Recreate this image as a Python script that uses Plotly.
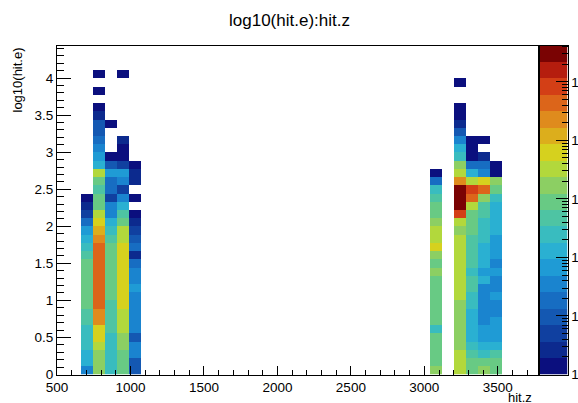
import numpy as np
import plotly.graph_objects as go

N = None

# ---- histogram binning ----
X_MIN, X_MAX, NX = 500.0, 3770.0, 40
Y_MIN, Y_MAX, NY = 0.0, 4.44, 40

# ---- colour axis (log10 of counts) and its 20-level palette ----
Z_LOG_MIN, Z_LOG_MAX = 0.0, 5.62
palette = [
    "#0b0f7e", "#0c2a8e", "#1040a0", "#1458b2", "#176dc2",
    "#1a84cf", "#1f9bd5", "#2ab0d2", "#39bcbf", "#4ec4a3",
    "#68ca84", "#8ccf63", "#b2d83c", "#d6d11e", "#dcae1c",
    "#df8b1d", "#dc651a", "#d33f16", "#b51d0e", "#7a0303",
]
cbar_tickvals = [0, 1, 2, 3, 4, 5]
cbar_ticktext = ["1", "10", "10²", "10³", "10⁴", "10⁵"]

# ---- cell contents: palette level for each y-bin (index 0 = lowest), keyed by x-bin ----
levels_by_xbin = {
    2: [5, 7, 7, 8, 8, 8, 9, 9, 10, 10, 10, 10, 10, 10, 9, 8, 7, 6, 4, 2, 1, 0],
    3: [11, 11, 11, 12, 13, 13, 15, 15, 16, 16, 16, 16, 16, 16, 16, 16, 15, 14, 13, 12,
        10, 10, 9, 10, 12, 7, 6, 5, 4, 3, 3, 1, 0, N, 0, N, 0],
    4: [8, 8, 8, 8, 8, 9, 9, 9, 9, 10, 10, 10, 10, 10, 10, 10, 9, 8, 7, 5,
        5, 2, 4, 4, 6, 3, 0, N, N, N, 0],
    5: [10, 10, 10, 11, 11, 12, 12, 12, 13, 13, 13, 13, 13, 13, 13, 13, 12, 12, 10, 9,
        7, 5, 2, 5, 6, 2, 0, 0, 1, N, N, N, N, N, N, N, 0],
    6: [3, 3, 5, 5, 3, 5, 5, 5, 5, 5, 6, 5, 5, 4, 1, 4, 3, 2, 1, 0,
        N, 0, N, 1, 1, 0],
    31: [11, 10, 10, 10, 10, 8, 10, 10, 10, 10, 10, 10, 11, 10, 11, 13, 12, 12, 11, 10,
         10, 9, 8, 4, 0],
    33: [12, 12, 12, 11, 11, 11, 11, 11, 11, 12, 12, 12, 12, 12, 12, 12, 12, 11, 12, 17,
         19, 19, 19, 15, 12, 11, 8, 7, 5, 3, 1, 0, 0, N, N, 0],
    34: [10, 10, 9, 8, 7, 7, 7, 7, 8, 8, 9, 9, 8, 9, 9, 9, 9, 10, 10, 10,
         12, 16, 17, 12, 7, 4, 0, 0, 0],
    35: [11, 10, 8, 7, 6, 6, 5, 5, 5, 5, 5, 7, 6, 7, 7, 7, 8, 8, 8, 9,
         9, 11, 16, 13, 5, 4, 1, N, 0],
    36: [10, 10, 9, 7, 6, 6, 6, 5, 5, 6, 5, 5, 6, 5, 6, 6, 6, 7, 7, 7,
         7, 8, 10, 11, 0, 0],
}

# ---- build the 2-D histogram grid ----
n_lev = len(palette)
band = (Z_LOG_MAX - Z_LOG_MIN) / n_lev
z = np.full((NY, NX), np.nan)
for xb, col in levels_by_xbin.items():
    for yb, lev in enumerate(col):
        if lev is not None:
            z[yb, xb] = Z_LOG_MIN + (lev + 0.5) * band

colorscale = []
for i, c in enumerate(palette):
    colorscale.append([i / n_lev, c])
    colorscale.append([(i + 1) / n_lev, c])

dx = (X_MAX - X_MIN) / NX
dy = (Y_MAX - Y_MIN) / NY

W, H = 578, 403
PL, PR, PT, PB = 57, 537.5, 45.5, 374.5
CB_L, CB_R = 539.5, 567.5

fig = go.Figure()
fig.add_trace(go.Heatmap(
    z=z, x0=X_MIN + dx / 2, dx=dx, y0=Y_MIN + dy / 2, dy=dy,
    zmin=Z_LOG_MIN, zmax=Z_LOG_MAX, colorscale=colorscale,
    showscale=False, hoverongaps=False, xaxis="x", yaxis="y",
))

# palette bar drawn on its own axes (so it can carry log minor ticks)
cb_z = [[Z_LOG_MIN + (i + 0.5) * band] for i in range(n_lev)]
fig.add_trace(go.Heatmap(
    z=cb_z, x=[0], y0=Z_LOG_MIN + band / 2, dy=band,
    zmin=Z_LOG_MIN, zmax=Z_LOG_MAX, colorscale=colorscale,
    showscale=False, xaxis="x2", yaxis="y2", hoverinfo="skip",
))

minor_log = [d + np.log10(k) for d in range(0, 6) for k in range(2, 10)
             if d + np.log10(k) < Z_LOG_MAX]

font = "Liberation Sans, Arial, Helvetica, sans-serif"
ydom = [(H - PB) / H, (H - PT) / H]

fig.update_layout(
    width=W, height=H,
    margin=dict(l=0, r=0, t=0, b=0, pad=0, autoexpand=False),
    paper_bgcolor="white", plot_bgcolor="white",
    font=dict(family=font, color="black"),
    showlegend=False,
    xaxis=dict(
        domain=[PL / W, PR / W], range=[X_MIN, X_MAX], anchor="y", automargin=False,
        tick0=0, dtick=500, ticks="inside", ticklen=9, tickcolor="black",
        minor=dict(ticks="inside", dtick=100, ticklen=5, tickcolor="black"),
        showline=True, linecolor="black", linewidth=1, mirror=True,
        showgrid=False, zeroline=False, tickfont=dict(size=13.5),
    ),
    yaxis=dict(
        domain=ydom, range=[Y_MIN, Y_MAX], anchor="x", automargin=False,
        tick0=0, dtick=0.5, ticks="inside", ticklen=14, tickcolor="black",
        minor=dict(ticks="inside", dtick=0.1, ticklen=7, tickcolor="black"),
        showline=True, linecolor="black", linewidth=1, mirror=True,
        showgrid=False, zeroline=False, tickfont=dict(size=13.5),
    ),
    xaxis2=dict(
        domain=[CB_L / W, CB_R / W], range=[-0.5, 0.5], anchor="y2", automargin=False,
        showticklabels=False, ticks="", showgrid=False, zeroline=False,
        showline=True, linecolor="black", linewidth=1, mirror=True,
    ),
    yaxis2=dict(
        domain=ydom, range=[Z_LOG_MIN, Z_LOG_MAX], anchor="x2", side="right",
        automargin=False,
        tickmode="array", tickvals=cbar_tickvals, ticktext=cbar_ticktext,
        ticks="inside", ticklen=12, tickcolor="black",
        minor=dict(ticks="inside", tickmode="array", tickvals=minor_log,
                   ticklen=6, tickcolor="black"),
        showline=True, linecolor="black", linewidth=1, mirror=True,
        showgrid=False, zeroline=False, tickfont=dict(size=13.5),
    ),
    annotations=[
        dict(text="log10(hit.e):hit.z", x=289 / W, y=(H - 20) / H,
             xref="paper", yref="paper", showarrow=False,
             font=dict(size=17), xanchor="center", yanchor="middle"),
        dict(text="hit.z", x=534 / W, y=(H - 397) / H,
             xref="paper", yref="paper", showarrow=False,
             font=dict(size=13), xanchor="right", yanchor="middle"),
        dict(text="log10(hit.e)", x=17 / W, y=(H - 46) / H, textangle=-90,
             xref="paper", yref="paper", showarrow=False,
             font=dict(size=13), xanchor="center", yanchor="top"),
    ],
)

fig.write_html("out.html", config={"displayModeBar": False},
               post_script="document.body.style.margin='0px';")
